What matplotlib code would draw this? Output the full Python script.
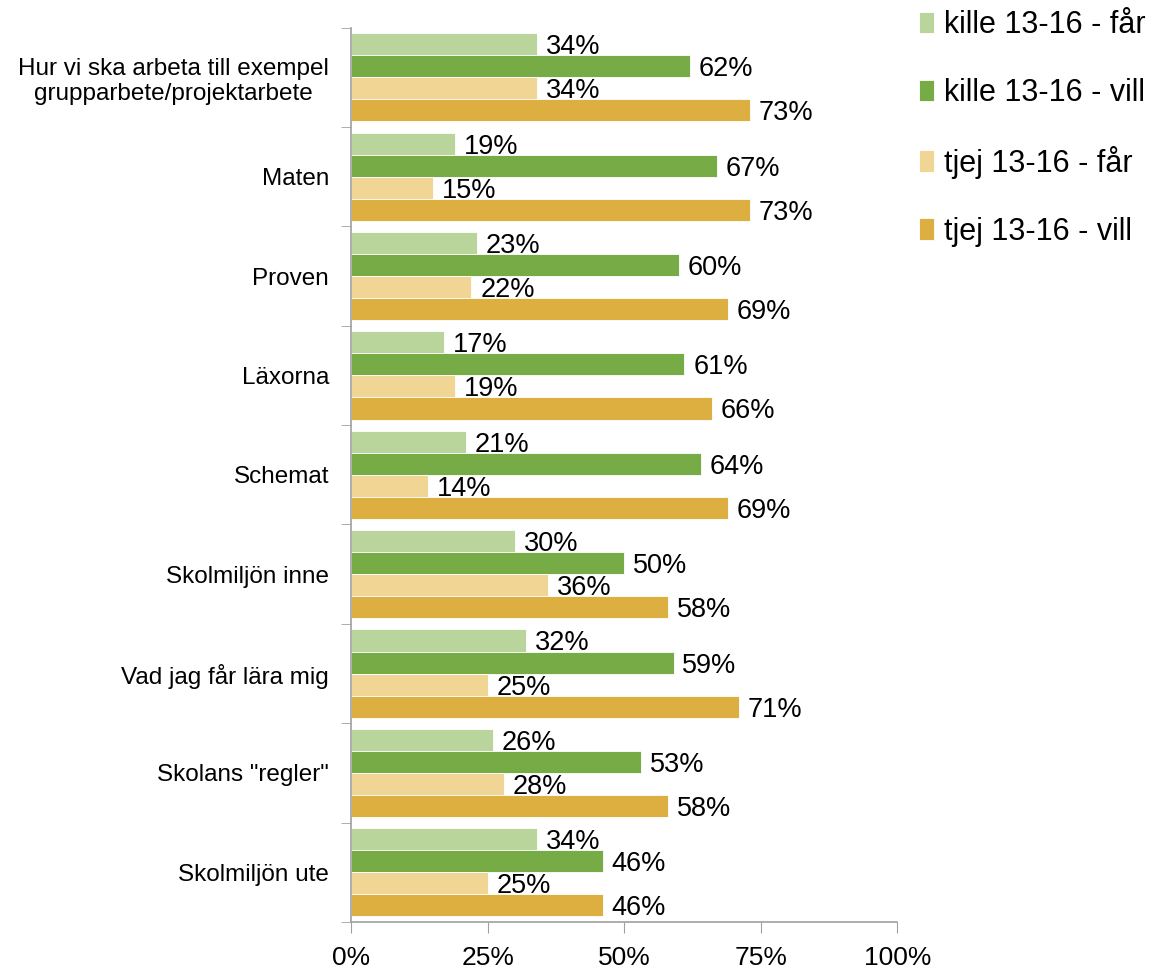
import numpy as np
import matplotlib.pyplot as plt

plt.rcParams['font.family'] = ['Liberation Sans', 'DejaVu Sans']

categories = ['Hur vi ska arbeta till exempel\ngrupparbete/projektarbete', 'Maten', 'Proven',
              'Läxorna', 'Schemat', 'Skolmiljön inne', 'Vad jag får lära mig',
              'Skolans "regler"', 'Skolmiljön ute']
series_names = ['kille 13-16 - får', 'kille 13-16 - vill', 'tjej 13-16 - får', 'tjej 13-16 - vill']
kille_far = [34, 19, 23, 17, 21, 30, 32, 26, 34]
kille_vill = [62, 67, 60, 61, 64, 50, 59, 53, 46]
tjej_far = [34, 15, 22, 19, 14, 36, 25, 28, 25]
tjej_vill = [73, 73, 69, 66, 69, 58, 71, 58, 46]
colors = ['#B9D59C', '#76AB45', '#F0D595', '#DDAF40']

fig = plt.figure(figsize=(11.52, 9.68), dpi=100)
ax = fig.add_axes([0.305, 0.0475, 0.474, 0.924])

n = len(categories)
pos = np.arange(n)  # category 0 at top
bar_h = 0.222
series = [kille_far, kille_vill, tjej_far, tjej_vill]
for i, (vals, name, c) in enumerate(zip(series, series_names, colors)):
    y = pos + (i - 1.5) * bar_h
    ax.barh(y, vals, height=bar_h, color=c, label=name, edgecolor='white', linewidth=0.6)
    for yy, v in zip(y, vals):
        ax.text(v + 1.6, yy + 0.03, f'{v}%', va='center', ha='left', fontsize=19.5)

ax.set_ylim(n - 0.5, -0.5)
ax.set_xlim(0, 100)
ax.set_yticks(pos)
ax.set_yticklabels(categories, fontsize=17.5, ha='right', multialignment='center')
ax.set_yticks(np.arange(n + 1) - 0.5, minor=True)
ax.tick_params(axis='y', which='major', length=0, pad=16)
ax.tick_params(axis='y', which='minor', length=7, color='#A0A0A0', direction='out')
ax.set_xticks([0, 25, 50, 75, 100])
ax.set_xticklabels(['0%', '25%', '50%', '75%', '100%'], fontsize=19)
ax.tick_params(axis='x', length=8, color='#A0A0A0', direction='out', pad=9)
for s in ['top', 'right']:
    ax.spines[s].set_visible(False)
for s in ['left', 'bottom']:
    ax.spines[s].set_color('#A0A0A0')
    ax.spines[s].set_linewidth(1.2)

fig.legend(loc='upper left', bbox_to_anchor=(0.774, 1.018), frameon=False, fontsize=22,
           handlelength=0.5, handleheight=0.7, handletextpad=0.3, labelspacing=1.24)

fig.savefig('out.png', dpi=100)
